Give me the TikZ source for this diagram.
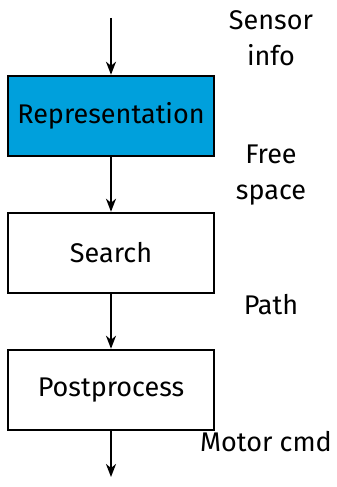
\documentclass[tikz,border=0pt]{standalone}
\usepackage{fontspec}
\setmainfont{Fira Sans}
\usetikzlibrary{arrows.meta}
\definecolor{repblue}{RGB}{0,160,220}
\begin{document}
\begin{tikzpicture}[x=1pt,y=-1pt,
  stage/.style={draw=black,line width=2.5pt,minimum width=206pt,minimum height=80pt,inner sep=0pt,font=\fontsize{27}{33}\selectfont},
  lbl/.style={align=center,font=\fontsize{27}{36}\selectfont,inner sep=0pt},
  flow/.style={line width=1.8pt,-{Stealth[length=13pt,width=10pt,inset=4pt]}}]
\useasboundingbox (0,0) rectangle (337,487);
\node[stage,fill=repblue] (rep) at (111,116) {Representation};
\node[stage] (search) at (111,253) {Search};
\node[stage] (post) at (111,390) {Postprocess};
\coordinate (in) at (111,18);
\coordinate (out) at (111,477);
\draw[flow] (in) -- (rep.north);
\draw[flow] (rep.south) -- (search.north);
\draw[flow] (search.south) -- (post.north);
\draw[flow] (post.south) -- (out);
\node[lbl] (sensor) at (271,38) {Sensor\\info};
\node[lbl] (free) at (271,175) {Free\\space};
\node[lbl] (path) at (271,305) {Path};
\node[lbl] (motor) at (266,442) {Motor cmd};
\end{tikzpicture}
\end{document}
